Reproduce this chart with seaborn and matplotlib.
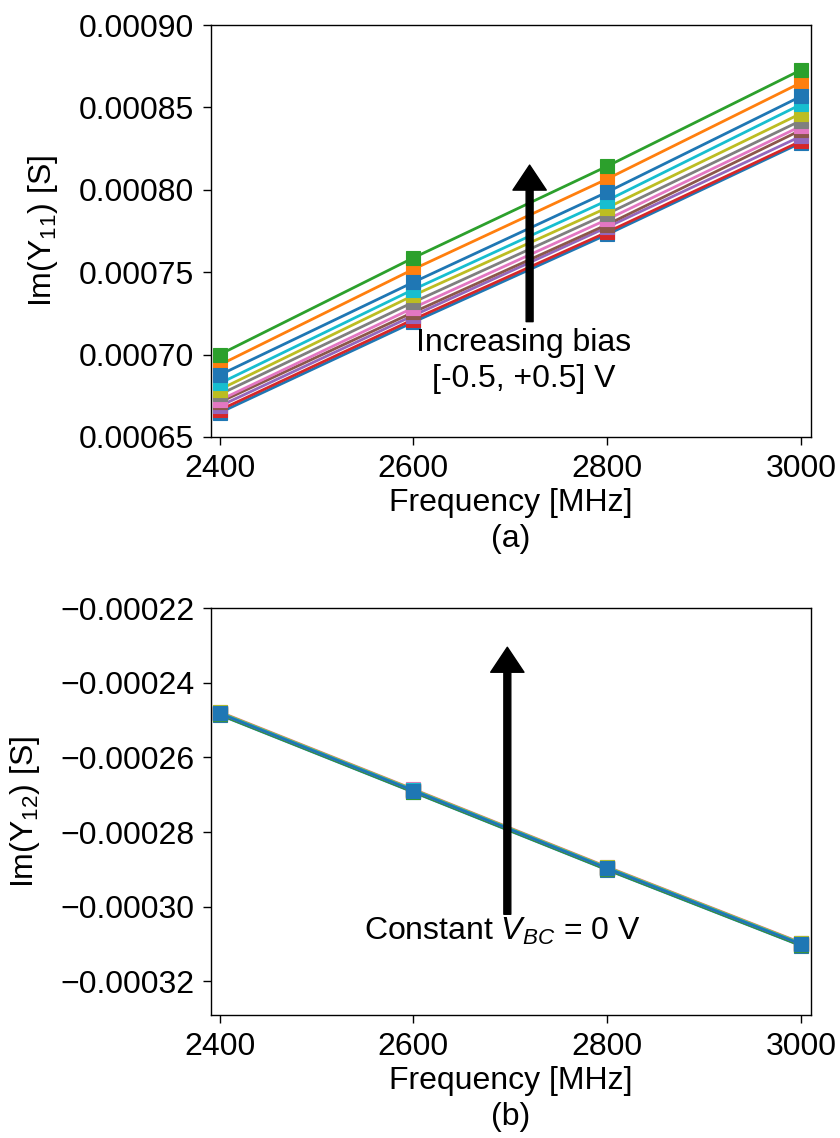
import matplotlib
matplotlib.use("Agg")
import matplotlib.pyplot as plt
import seaborn as sns
import numpy as np

sns.set_style("ticks")
plt.rcParams['font.family'] = ['Liberation Sans', 'DejaVu Sans']
plt.rcParams['mathtext.fontset'] = 'custom'
plt.rcParams['mathtext.rm'] = 'Liberation Sans'
plt.rcParams['mathtext.it'] = 'Liberation Sans:italic'
plt.rcParams['mathtext.default'] = 'regular'
for k in ['text.color', 'axes.labelcolor', 'xtick.color', 'ytick.color', 'axes.edgecolor']:
    plt.rcParams[k] = 'black'

FS = 23

freq = [2400, 2600, 2800, 3000]
colors = ['#1f77b4', '#ff7f0e', '#2ca02c', '#d62728', '#9467bd', '#8c564b',
          '#e377c2', '#7f7f7f', '#bcbd22', '#17becf', '#1f77b4']

# Im(Y11) per series (draw order)
y11_s0 = [0.0006647, 0.0007197, 0.0007729, 0.0008285]
y11_s1 = [0.0006937, 0.0007518, 0.0008066, 0.0008650]
y11_s2 = [0.0007000, 0.0007587, 0.0008143, 0.0008727]
y11_s3 = [0.0006663, 0.0007213, 0.0007743, 0.0008295]
y11_s4 = [0.0006687, 0.0007237, 0.0007773, 0.0008325]
y11_s5 = [0.0006711, 0.0007257, 0.0007789, 0.0008362]
y11_s6 = [0.0006723, 0.0007284, 0.0007820, 0.0008386]
y11_s7 = [0.0006758, 0.0007318, 0.0007854, 0.0008420]
y11_s8 = [0.0006788, 0.0007359, 0.0007891, 0.0008463]
y11_s9 = [0.0006825, 0.0007395, 0.0007935, 0.0008518]
y11_s10 = [0.0006876, 0.0007439, 0.0007986, 0.0008567]
y11 = [y11_s0, y11_s1, y11_s2, y11_s3, y11_s4, y11_s5, y11_s6, y11_s7, y11_s8, y11_s9, y11_s10]

# Im(Y12) per series (draw order)
y12_s0 = [-0.0002486, -0.0002693, -0.0002901, -0.0003104]
y12_s1 = [-0.0002483, -0.0002690, -0.0002898, -0.0003101]
y12_s2 = [-0.0002485, -0.0002692, -0.0002900, -0.0003103]
y12_s3 = [-0.0002482, -0.0002689, -0.0002897, -0.0003100]
y12_s4 = [-0.0002481, -0.0002688, -0.0002896, -0.0003099]
y12_s5 = [-0.0002481, -0.0002688, -0.0002896, -0.0003099]
y12_s6 = [-0.0002478, -0.0002685, -0.0002893, -0.0003096]
y12_s7 = [-0.0002480, -0.0002687, -0.0002895, -0.0003098]
y12_s8 = [-0.0002479, -0.0002686, -0.0002894, -0.0003097]
y12_s9 = [-0.0002481, -0.0002688, -0.0002896, -0.0003099]
y12_s10 = [-0.0002482, -0.0002689, -0.0002897, -0.0003100]
y12 = [y12_s0, y12_s1, y12_s2, y12_s3, y12_s4, y12_s5, y12_s6, y12_s7, y12_s8, y12_s9, y12_s10]

fig = plt.figure(figsize=(8.4, 11.38), dpi=100)
ax1 = fig.add_axes([0.251, 0.616, 0.714, 0.362])
ax2 = fig.add_axes([0.251, 0.108, 0.714, 0.3577])

for ax, data in ((ax1, y11), (ax2, y12)):
    for vals, c in zip(data, colors):
        sns.lineplot(x=freq, y=vals, ax=ax, color=c, marker='s', markersize=10.5,
                     markeredgecolor=c, markeredgewidth=0.8, linewidth=2)
    ax.set_xlim(2391, 3010)
    ax.set_xticks([2400, 2600, 2800, 3000])
    ax.tick_params(labelsize=FS, length=6, width=1, colors='black', pad=6)
    for s in ax.spines.values():
        s.set_linewidth(1.0)
        s.set_color('black')

ax1.set_ylim(0.00065, 0.00090)
ax1.set_yticks([0.00065, 0.00070, 0.00075, 0.00080, 0.00085, 0.00090])
ax1.set_yticklabels(['0.00065', '0.00070', '0.00075', '0.00080', '0.00085', '0.00090'])
ax1.set_xlabel('Frequency [MHz]\n(a)', fontsize=FS, linespacing=1.25, labelpad=3)
ax1.set_ylabel('Im(Y$_{11}$) [S]', fontsize=FS)

ax2.set_ylim(-0.000329, -0.00022)
yt2 = [-0.00032, -0.00030, -0.00028, -0.00026, -0.00024, -0.00022]
ax2.set_yticks(yt2)
ax2.set_yticklabels(['\u22120.00032', '\u22120.00030', '\u22120.00028', '\u22120.00026', '\u22120.00024', '\u22120.00022'])
ax2.set_xlabel('Frequency [MHz]\n(b)', fontsize=FS, linespacing=1.25, labelpad=3)
ax2.set_ylabel('Im(Y$_{12}$) [S]', fontsize=FS)

arrow_kw = dict(facecolor='black', edgecolor='black', width=5, headwidth=24, headlength=18, shrink=0)
ax1.annotate('', xy=(2720, 0.000815), xytext=(2720, 0.000720), arrowprops=arrow_kw)
ax1.text(2714, 0.000716, 'Increasing bias\n[-0.5, +0.5] V', fontsize=FS, ha='center', va='top',
         linespacing=1.25)

ax2.annotate('', xy=(2697, -0.0002305), xytext=(2697, -0.000302), arrowprops=arrow_kw)
ax2.text(2692, -0.0003065, 'Constant $\\mathit{V_{BC}}$ = 0 V', fontsize=FS, ha='center', va='center')

ax1.yaxis.set_label_coords(-0.252, 0.5)
ax2.yaxis.set_label_coords(-0.282, 0.5)

fig.savefig('out.png', dpi=100)
